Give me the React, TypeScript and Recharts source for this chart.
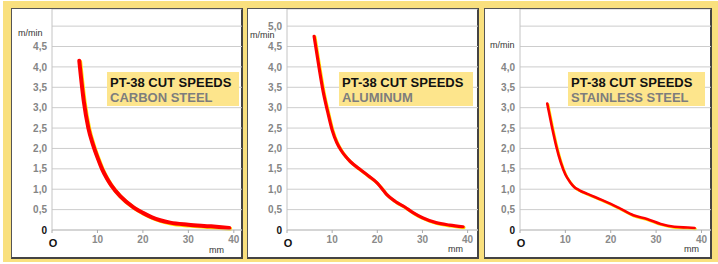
import React from 'react';
import { LineChart, Line, XAxis, YAxis, CartesianGrid } from 'recharts';

const thicknessTicks = [0, 10, 20, 30, 40];
const speedTicks = [0, 0.5, 1, 1.5, 2, 2.5, 3, 3.5, 4, 4.5, 5];

const carbonMm = [6, 7, 8, 9, 10, 11, 12, 13, 15, 18, 20, 22, 26, 30, 35, 39];
const carbonSpeed = [4.15, 3.15, 2.5, 2.1, 1.78, 1.5, 1.28, 1.1, 0.83, 0.55, 0.42, 0.31, 0.18, 0.13, 0.09, 0.05];

const aluminumMm = [6, 7, 8, 9, 10, 11, 12, 13, 14, 16, 18, 20, 21, 22, 24, 26, 28, 30, 33, 36, 39];
const aluminumSpeed = [4.75, 4.05, 3.4, 2.9, 2.45, 2.15, 1.95, 1.8, 1.68, 1.5, 1.33, 1.15, 1.02, 0.88, 0.7, 0.57, 0.42, 0.3, 0.18, 0.12, 0.08];

const stainlessMm = [6, 7, 8, 9, 10, 11, 12, 13, 15, 18, 20, 22, 25, 28, 31, 34, 37, 38.5];
const stainlessSpeed = [3.1, 2.55, 2.05, 1.65, 1.36, 1.18, 1.05, 0.98, 0.88, 0.74, 0.64, 0.53, 0.36, 0.27, 0.15, 0.08, 0.06, 0.05];

const titleLine = 'PT-38 CUT SPEEDS';
const materials = ['CARBON STEEL', 'ALUMINUM', 'STAINLESS STEEL'];
const unitY = 'm/min';
const unitX = 'mm';

const FONT = '"Liberation Sans", Arial, Helvetica, sans-serif';

const toRows = (mm: number[], speed: number[]) => mm.map((m, i) => ({ mm: m, speed: speed[i] }));

const panels = [
  {
    data: toRows(carbonMm, carbonSpeed), material: materials[0], maxLabel: 4.5,
    box: { left: 11, width: 232 }, chartLeft: 12, chartWidth: 230, axisW: 40, xMax: 41.8,
    unitPos: [18, 29], mmPos: [209, 246], title: { left: 107, width: 132 }, stroke: 4,
  },
  {
    data: toRows(aluminumMm, aluminumSpeed), material: materials[1], maxLabel: 5,
    box: { left: 247, width: 232 }, chartLeft: 248, chartWidth: 230, axisW: 39, xMax: 42.3,
    unitPos: [250, 31], mmPos: [448, 245], title: { left: 339, width: 134 }, stroke: 3.2,
  },
  {
    data: toRows(stainlessMm, stainlessSpeed), material: materials[2], maxLabel: 4,
    box: { left: 484, width: 228 }, chartLeft: 485, chartWidth: 226, axisW: 35, xMax: 42.1,
    unitPos: [490, 41], mmPos: [684, 245], title: { left: 568, width: 137 }, stroke: 2.6,
  },
];

const XTick = ({ x, y, payload }: any) =>
  payload.value === 0 ? (
    <text x={x + 1} y={y + 12} textAnchor="middle" fontFamily={FONT} fontSize={11} fontWeight={700} fill="#111">O</text>
  ) : (
    <text x={x} y={y + 8} textAnchor="middle" fontFamily={FONT} fontSize={10} fontWeight={700} fill="#8a8a8a">
      {payload.value}
    </text>
  );

const makeYTick = (maxLabel: number) => ({ x, y, payload }: any) => {
  if (payload.value > maxLabel) return <g />;
  const v = payload.value === 0 ? '0' : payload.value.toFixed(1).replace('.', ',');
  return (
    <text x={x} y={y} dy="0.36em" textAnchor="end" fontFamily={FONT} fontSize={10} fontWeight={700}
      fill={payload.value === 0 ? '#111' : '#858585'}>
      {v}
    </text>
  );
};

const small = (left: number, top: number, text: string) => (
  <div style={{ position: 'absolute', left, top, fontFamily: FONT, fontSize: 9, lineHeight: '9px', color: '#333' }}>
    {text}
  </div>
);

export default function App() {
  return (
    <div style={{ position: 'absolute', left: 0, top: 0, width: 718, height: 264, background: '#fff', overflow: 'hidden' }}>
      <style>{`.yshadow { transform: translate(0.9px, 0.9px); }`}</style>
      <div style={{ position: 'absolute', left: 3, top: 1, width: 715, height: 261, background: '#F9E07E' }} />
      {panels.map((p, i) => (
        <React.Fragment key={i}>
          <div style={{
            position: 'absolute', left: p.box.left, top: 8, width: p.box.width, height: 251, boxSizing: 'border-box',
            background: '#fff', borderTop: '1px solid #555', borderLeft: '1px solid #555',
            borderRight: '2px solid #444', borderBottom: '2px solid #444',
          }} />
          <div style={{ position: 'absolute', left: p.chartLeft, top: 9 }}>
            <LineChart width={p.chartWidth} height={249} data={p.data} margin={{ top: 0, right: 0, bottom: 0, left: 0 }}>
              <CartesianGrid vertical={false} stroke="#cdcdcd" />
              <XAxis dataKey="mm" type="number" domain={[0, p.xMax]} ticks={thicknessTicks} height={28}
                axisLine={{ stroke: '#c4c4c4' }} tickLine={{ stroke: '#aaa' }} tickSize={3} tickMargin={2}
                tick={<XTick />} interval={0} />
              <YAxis type="number" domain={[0, 5.42]} ticks={speedTicks} width={p.axisW} allowDataOverflow
                axisLine={{ stroke: '#c4c4c4' }} tickLine={false} tickSize={0} tickMargin={5}
                tick={makeYTick(p.maxLabel)} interval={0} />
              <Line className="yshadow" dataKey="speed" type="monotone" stroke="#FFE600" strokeWidth={p.stroke}
                dot={false} isAnimationActive={false} strokeLinecap="round" />
              <Line dataKey="speed" type="monotone" stroke="#FF0000" strokeWidth={p.stroke}
                dot={false} isAnimationActive={false} strokeLinecap="round" />
            </LineChart>
          </div>
          {small(p.unitPos[0], p.unitPos[1], unitY)}
          {small(p.mmPos[0], p.mmPos[1], unitX)}
          <div style={{
            position: 'absolute', left: p.title.left, top: 72, width: p.title.width, height: 34, boxSizing: 'border-box',
            padding: '3px 0 0 3px', background: '#FDE58C', fontFamily: FONT, fontWeight: 700, fontSize: 13, lineHeight: '15px',
            whiteSpace: 'nowrap',
          }}>
            <div style={{ color: '#111' }}>{titleLine}</div>
            <div style={{ color: '#7d7d7d' }}>{p.material}</div>
          </div>
        </React.Fragment>
      ))}
    </div>
  );
}
